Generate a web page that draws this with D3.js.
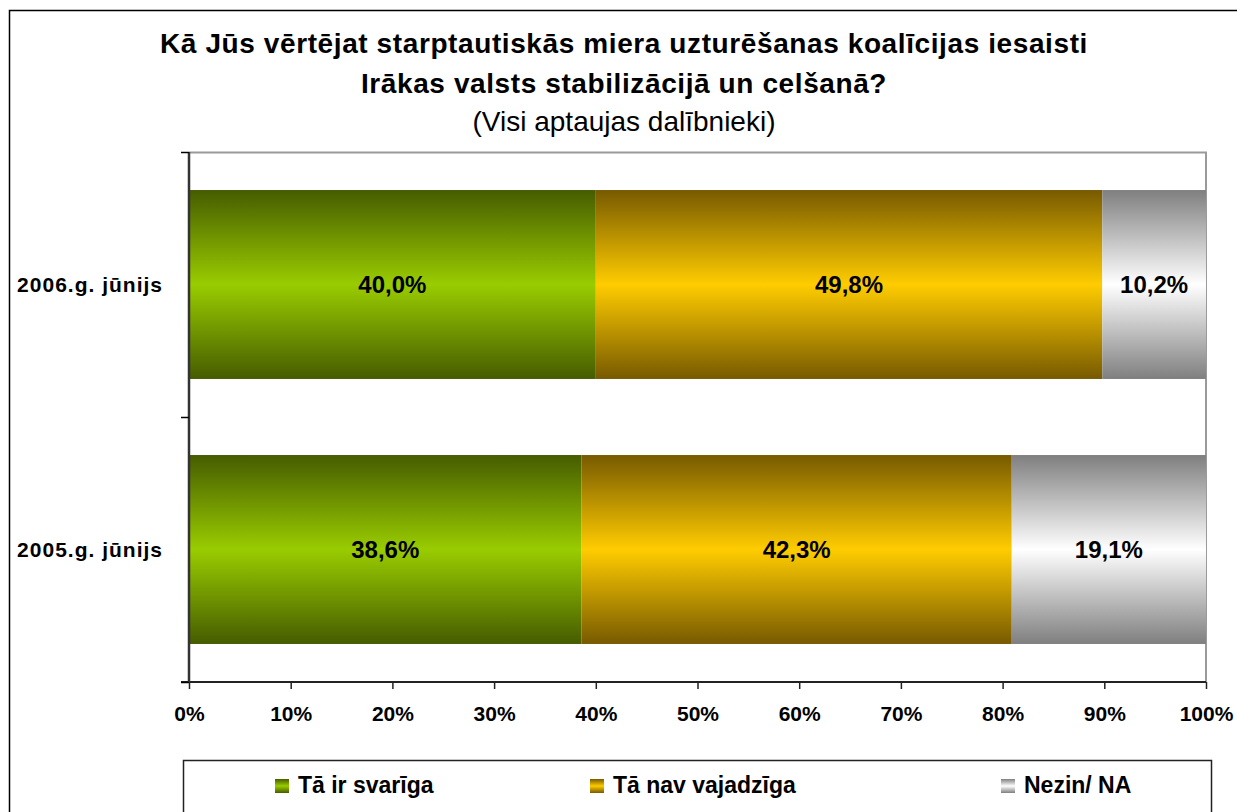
<!DOCTYPE html>
<html>
<head>
<meta charset="utf-8">
<script src="https://cdn.jsdelivr.net/npm/d3@7"></script>
<style>
  body { margin: 0; background: #fff; }
  svg { display: block; font-family: "Liberation Sans", Arial, sans-serif; }
</style>
</head>
<body>
<div id="chart"></div>
<script>
// data
var categories = ['2006.g. jūnijs', '2005.g. jūnijs'];
var seriesNames = ['Tā ir svarīga', 'Tā nav vajadzīga', 'Nezin/ NA'];
var svariga = [40.0, 38.6];
var navVajadziga = [49.8, 42.3];
var nezin = [10.2, 19.1];
var xTicks = [0, 10, 20, 30, 40, 50, 60, 70, 80, 90, 100];
var titleLines = ['Kā Jūs vērtējat starptautiskās miera uzturēšanas koalīcijas iesaisti',
                  'Irākas valsts stabilizācijā un celšanā?'];
var subtitle = '(Visi aptaujas dalībnieki)';

// gradient colours: [dark edge, bright middle]
var colors = [['#465c00', '#99cc00'], ['#775a00', '#ffcc00'], ['#7f7f7f', '#ffffff']];

var W = 1237, H = 812;
var margin = { top: 152, right: 31, bottom: 130, left: 189 };
var plotW = W - margin.left - margin.right,
    plotH = H - margin.top - margin.bottom;

var rows = categories.map(function (c, i) {
    return { cat: c, vals: [svariga[i], navVajadziga[i], nezin[i]] };
});

var svg = d3.select('#chart').append('svg')
    .attr('width', W)
    .attr('height', H);

// gradients
var defs = svg.append('defs');
colors.forEach(function (c, i) {
    var g = defs.append('linearGradient')
        .attr('id', 'grad' + i)
        .attr('x1', 0).attr('y1', 0).attr('x2', 0).attr('y2', 1);
    g.append('stop').attr('offset', '0%').attr('stop-color', c[0]);
    g.append('stop').attr('offset', '50%').attr('stop-color', c[1]);
    g.append('stop').attr('offset', '100%').attr('stop-color', c[0]);
});

// outer frame (runs off the picture on right and bottom)
svg.append('rect')
    .attr('x', 9.5).attr('y', 10.5)
    .attr('width', 1400).attr('height', 1000)
    .attr('fill', 'none').attr('stroke', '#000').attr('stroke-width', 1.5);

// title
svg.selectAll('.title')
    .data(titleLines)
    .enter()
    .append('text')
    .attr('class', 'title')
    .attr('x', 624)
    .attr('y', function (d, i) { return 53 + i * 40; })
    .attr('text-anchor', 'middle')
    .style('font-weight', 'bold')
    .style('font-size', '28px')
    .style('letter-spacing', '0.6px')
    .text(function (d) { return d; });

svg.append('text')
    .attr('x', 624)
    .attr('y', 131)
    .attr('text-anchor', 'middle')
    .style('font-size', '28px')
    .text(subtitle);

var g = svg.append('g')
    .attr('transform', 'translate(' + margin.left + ',' + margin.top + ')');

// scales
var x = d3.scaleLinear().domain([0, 100]).range([0, plotW]);
var y = d3.scaleBand()
    .domain(categories)
    .range([0, plotH])
    .paddingInner(0.287)
    .paddingOuter(0.1435);

// plot border (top and right)
g.append('path')
    .attr('d', 'M0,0.5H' + plotW + 'V' + plotH)
    .attr('fill', 'none')
    .attr('stroke', '#9a9a9a')
    .attr('stroke-width', 2);

// stacked bars
var stack = d3.stack()
    .keys([0, 1, 2])
    .value(function (d, k) { return d.vals[k]; });
var stacked = stack(rows);

var layers = g.selectAll('.layer')
    .data(stacked)
    .enter()
    .append('g')
    .attr('class', 'layer')
    .attr('fill', function (d, i) { return 'url(#grad' + i + ')'; });

layers.selectAll('rect')
    .data(function (d) { return d; })
    .enter()
    .append('rect')
    .attr('x', function (d) { return x(d[0]); })
    .attr('y', function (d) { return y(d.data.cat); })
    .attr('width', function (d) { return x(d[1]) - x(d[0]); })
    .attr('height', y.bandwidth());

// data labels
layers.selectAll('text')
    .data(function (d) { return d.map(function (p) { return { p: p, k: d.key }; }); })
    .enter()
    .append('text')
    .attr('x', function (d) { return x((d.p[0] + d.p[1]) / 2); })
    .attr('y', function (d) { return y(d.p.data.cat) + y.bandwidth() / 2; })
    .attr('dy', '.36em')
    .attr('text-anchor', 'middle')
    .attr('fill', '#000')
    .style('font-weight', 'bold')
    .style('font-size', '24px')
    .text(function (d) { return d.p.data.vals[d.k].toFixed(1).replace('.', ',') + '%'; });

// x axis
var xAxis = g.append('g')
    .attr('transform', 'translate(0,' + plotH + ')')
    .call(d3.axisBottom(x)
        .tickValues(xTicks)
        .tickSize(7)
        .tickPadding(17)
        .tickFormat(function (d) { return d + '%'; }));

xAxis.select('.domain').attr('stroke', '#222').attr('stroke-width', 2)
    .attr('d', 'M-8,0H' + plotW);
xAxis.selectAll('.tick line').attr('stroke', '#222').attr('stroke-width', 1.5);
xAxis.selectAll('.tick text')
    .attr('fill', '#000')
    .style('font-family', '"Liberation Sans", Arial, sans-serif')
    .style('font-weight', 'bold')
    .style('font-size', '21px');

// y axis: ticks at band boundaries
var yBounds = [0, plotH / 2, plotH];
var yAxis = g.append('g');
yAxis.append('line')
    .attr('x1', 0).attr('x2', 0)
    .attr('y1', 0).attr('y2', plotH)
    .attr('stroke', '#333').attr('stroke-width', 2.5);
yAxis.selectAll('.ytick')
    .data(yBounds)
    .enter()
    .append('line')
    .attr('class', 'ytick')
    .attr('x1', -8).attr('x2', 0)
    .attr('y1', function (d) { return Math.round(d) + 0.5; })
    .attr('y2', function (d) { return Math.round(d) + 0.5; })
    .attr('stroke', '#000').attr('stroke-width', 1.5);

yAxis.selectAll('.ylabel')
    .data(categories)
    .enter()
    .append('text')
    .attr('class', 'ylabel')
    .attr('x', -26)
    .attr('y', function (d) { return y(d) + y.bandwidth() / 2; })
    .attr('dy', '.36em')
    .attr('text-anchor', 'end')
    .style('font-weight', 'bold')
    .style('font-size', '21px')
    .style('letter-spacing', '1px')
    .text(function (d) { return d; });

// legend
var legend = svg.append('g');
legend.append('rect')
    .attr('x', 183.5).attr('y', 760.5)
    .attr('width', 1028).attr('height', 200)
    .attr('fill', '#fff').attr('stroke', '#222').attr('stroke-width', 1.5);

var legendX = [275, 590, 1001];
var items = legend.selectAll('.item')
    .data(seriesNames)
    .enter()
    .append('g')
    .attr('class', 'item')
    .attr('transform', function (d, i) { return 'translate(' + legendX[i] + ',779)'; });

items.append('rect')
    .attr('width', 14).attr('height', 14)
    .attr('fill', function (d, i) { return 'url(#grad' + i + ')'; });

items.append('text')
    .attr('x', 23)
    .attr('y', 14)
    .style('font-weight', 'bold')
    .style('font-size', '23px')
    .text(function (d) { return d; });
</script>
</body>
</html>
